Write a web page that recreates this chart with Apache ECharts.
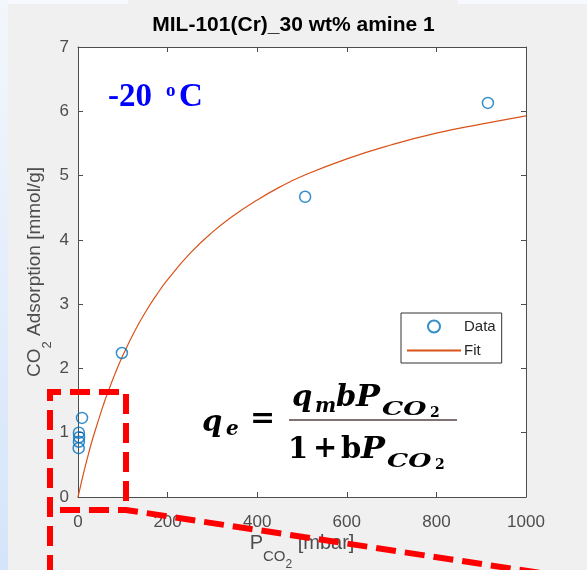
<!DOCTYPE html>
<html><head><meta charset="utf-8">
<script src="https://cdn.jsdelivr.net/npm/echarts@6/dist/echarts.min.js"></script>
<style>html,body{margin:0;padding:0;background:#f0f0f0}#c{width:587px;height:570px}</style>
</head><body><div id="c"></div>
<script>
// ---- data ----
const titleText = 'MIL-101(Cr)_30 wt% amine 1';
const dataP = [2, 2.5, 2, 1.5, 9, 98, 507, 915];
const dataQ = [1.0, 0.93, 0.86, 0.76, 1.23, 2.24, 4.67, 6.13];
const fitP = [0, 5, 10, 20, 30, 40, 50, 60, 70, 80, 90, 100, 125, 150, 175, 200, 250, 300, 350, 400, 450, 500, 600, 700, 800, 900, 1000];
const fitQ = [0, 0.15, 0.30, 0.58, 0.84, 1.07, 1.29, 1.50, 1.69, 1.87, 2.04, 2.20, 2.56, 2.87, 3.14, 3.38, 3.79, 4.12, 4.39, 4.62, 4.82, 4.99, 5.26, 5.48, 5.66, 5.80, 5.93];
const xMin = 0, xMax = 1000, xStep = 200;
const yMin = 0, yMax = 7, yStep = 1;

const chart = echarts.init(document.getElementById('c'), null, {renderer: 'canvas'});
const axisCol = '#4d4d4d';
const sans = '"Liberation Sans", Arial, sans-serif';
const tserif = '"Liberation Serif", "Times New Roman", serif';
const mserif = '"DejaVu Serif", serif';

function T(x, y, text, size, opts) {
  opts = opts || {};
  return {type: 'text', x: x, y: y, z: 50, scaleX: opts.sx || 1,
    style: {text: text, fill: opts.fill || '#000', textAlign: 'left', textVerticalAlign: 'middle',
      font: (opts.italic ? 'italic ' : '') + 'bold ' + size + 'px ' + (opts.family || mserif)}};
}

const baseAxis = {
  axisLine: {show: true, onZero: false, lineStyle: {color: axisCol, width: 1}},
  axisTick: {show: true, inside: true, length: 5, lineStyle: {color: axisCol}},
  splitLine: {show: false}
};

const option = {
  backgroundColor: '#f0f0f0',
  animation: false,
  title: {text: titleText, left: 'center', top: 15, padding: 0,
    textStyle: {fontFamily: sans, fontWeight: 'bold', fontSize: 21, color: '#000'}},
  grid: {left: 78, right: 61, top: 47, bottom: 73, show: true, backgroundColor: '#fff', borderWidth: 0,
    containLabel: false, outerBoundsMode: 'none'},
  legend: {
    orient: 'vertical', left: 401, top: 313,
    backgroundColor: '#fff', borderColor: '#333', borderWidth: 1,
    padding: [6, 6, 5, 5], itemWidth: 54, itemHeight: 12, itemGap: 9,
    textStyle: {fontFamily: sans, fontSize: 15, color: '#262626', padding: [0, 0, 0, -2]},
    data: [{name: 'Data'}, {name: 'Fit', itemStyle: {opacity: 0}}]
  },
  xAxis: [
    Object.assign({}, baseAxis, {type: 'value', position: 'bottom', min: xMin, max: xMax, interval: xStep,
      axisLabel: {color: axisCol, fontSize: 17, fontFamily: sans, margin: 17, formatter: v => String(v)},
      name: '{p|P}{s|CO}{ss|2}{p| [mbar]}', nameLocation: 'middle', nameGap: 21, nameMoveOverlap: false,
      nameTextStyle: {rich: {
        p: {fontFamily: sans, fontSize: 20, color: axisCol, lineHeight: 50},
        s: {fontFamily: sans, fontSize: 15, color: axisCol, height: 22, verticalAlign: 'bottom'},
        ss: {fontFamily: sans, fontSize: 12, color: axisCol, height: 6, verticalAlign: 'bottom'}
      }}}),
    Object.assign({}, baseAxis, {type: 'value', position: 'top', min: xMin, max: xMax, interval: xStep,
      axisLabel: {show: false}})
  ],
  yAxis: [
    Object.assign({}, baseAxis, {type: 'value', position: 'left', min: yMin, max: yMax, interval: yStep,
      axisLabel: {color: axisCol, fontSize: 17, fontFamily: sans, margin: 9},
      name: '{n|CO}{s|2}{n| Adsorption [mmol/g]}', nameLocation: 'middle', nameGap: 28, nameMoveOverlap: false,
      nameTextStyle: {rich: {
        n: {fontFamily: sans, fontSize: 19, color: axisCol, lineHeight: 30},
        s: {fontFamily: sans, fontSize: 13, color: axisCol, height: 6, verticalAlign: 'bottom'}
      }}}),
    Object.assign({}, baseAxis, {type: 'value', position: 'right', min: yMin, max: yMax, interval: yStep,
      axisLabel: {show: false}})
  ],
  series: [
    {name: 'Fit', type: 'line', xAxisIndex: 0, yAxisIndex: 0, smooth: true, symbol: 'none', showSymbol: false,
      lineStyle: {color: '#D95319', width: 1.2}, itemStyle: {color: '#D95319'},
      data: fitP.map((p, i) => [p, fitQ[i]]), z: 3},
    {name: 'Data', type: 'scatter', xAxisIndex: 0, yAxisIndex: 0, symbol: 'circle', symbolSize: 11,
      itemStyle: {color: 'rgba(0,0,0,0)', borderColor: '#0072BD', borderWidth: 1.5},
      data: dataP.map((p, i) => [p, dataQ[i]]), z: 4}
  ],
  graphic: [
    {type: 'rect', shape: {x: 0, y: 0, width: 8, height: 570}, z: -1,
      style: {fill: new echarts.graphic.LinearGradient(0, 0, 0, 1, [{offset: 0, color: '#f3f7fc'}, {offset: 1, color: '#d4e4fa'}])}},
    {type: 'rect', shape: {x: 8, y: 0, width: 120, height: 4}, z: -1, style: {fill: '#f6f9fd'}},
    {type: 'rect', shape: {x: 458, y: 0, width: 129, height: 4}, z: -1, style: {fill: '#f6f9fd'}},
    // -20 oC annotation
    T(108, 97, '-20', 33, {fill: '#0000ff', family: tserif}),
    T(166, 91, 'o', 19, {fill: '#0000ff', family: tserif}),
    T(179, 97, 'C', 33, {fill: '#0000ff', family: tserif}),
    // formula
    T(202, 423, 'q', 29, {italic: true}),
    T(226, 430, 'e', 20, {italic: true}),
    T(250, 419, '=', 30),
    T(292, 398, 'q', 29, {italic: true}),
    T(315, 407, 'm', 20, {italic: true}),
    T(336, 398, 'b', 29, {italic: true}),
    T(356, 398, 'P', 29, {italic: true, sx: 1.1}),
    T(382, 410, 'CO', 19, {italic: true, sx: 1.4}),
    T(430, 413, '2', 14),
    {type: 'line', z: 50, shape: {x1: 289, y1: 420, x2: 457, y2: 420}, style: {stroke: '#7f7373', lineWidth: 2}},
    T(288, 450, '1', 29),
    T(313, 449, '+', 29),
    T(341, 450, 'b', 29),
    T(361, 450, 'P', 29, {italic: true, sx: 1.1}),
    T(387, 462, 'CO', 19, {italic: true, sx: 1.4}),
    T(435, 465, '2', 14),
    // red dashed overlay
    {type: 'polyline', z: 100, shape: {points: [[50, 575], [50, 392], [126, 392], [126, 510]]},
      style: {stroke: '#ff0000', lineWidth: 6, lineDash: [20, 9], fill: null}},
    {type: 'polyline', z: 100, shape: {points: [[60, 510], [126, 510], [600, 582]]},
      style: {stroke: '#ff0000', lineWidth: 6, lineDash: [20, 9], fill: null}}
  ]
};
chart.setOption(option);
</script>
</body></html>
